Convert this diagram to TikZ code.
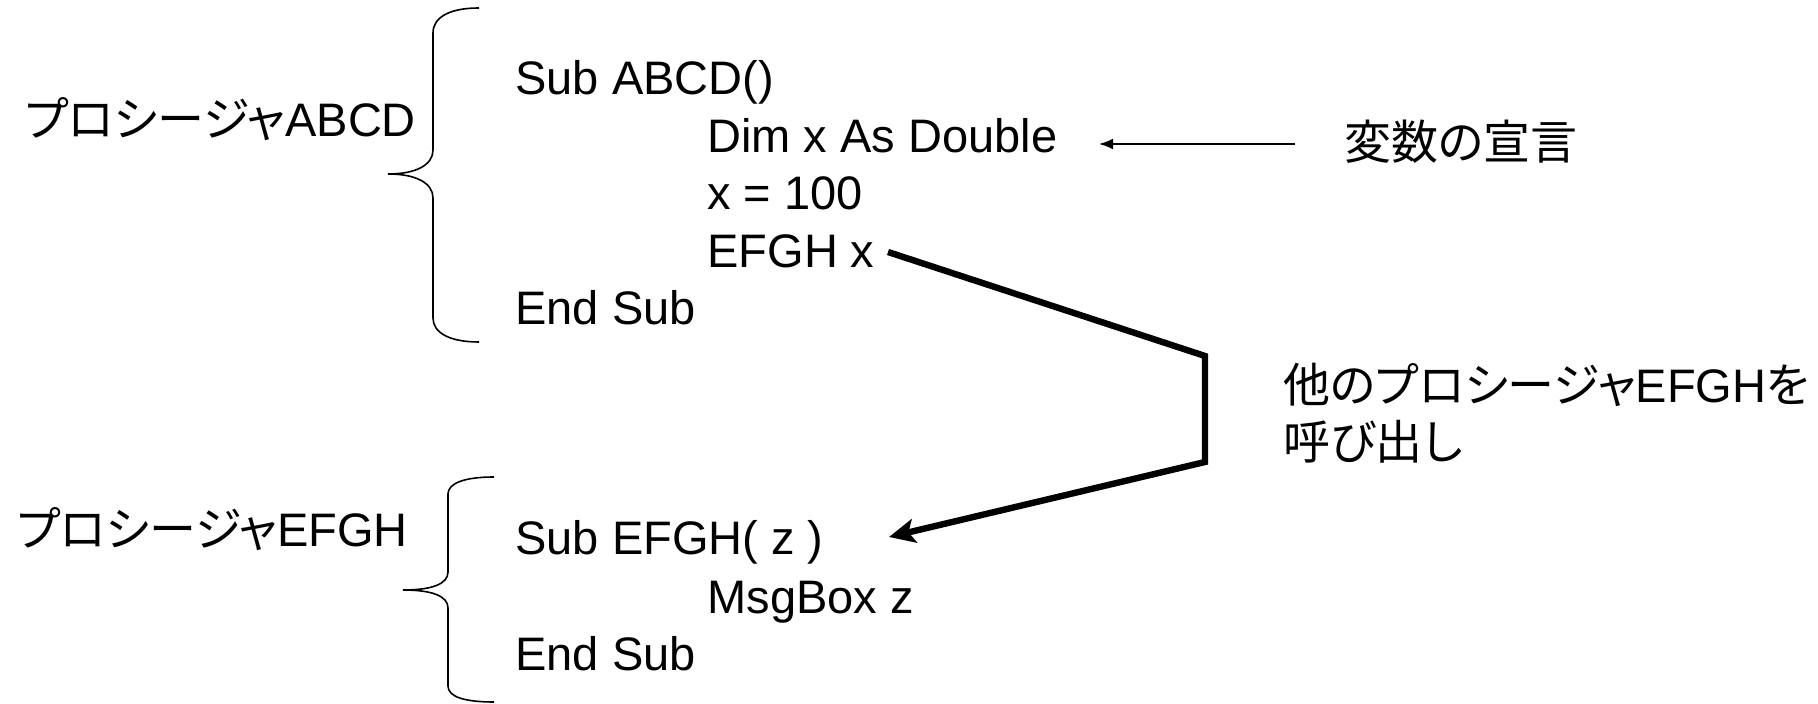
\documentclass[tikz,border=0pt]{standalone}
\usepackage{fontspec}
\setmainfont{Liberation Sans}
\newfontfamily\jp[RawFeature={+palt}]{Noto Sans CJK JP}
\usetikzlibrary{arrows.meta}
\begin{document}
\begin{tikzpicture}[x=0.5pt,y=-0.5pt,
  txt/.style={inner sep=0pt, anchor=base west, font=\fontsize{23.5}{28}\selectfont},
  bracepath/.style={line width=0.8pt},
  thinarrow/.style={line width=0.9pt, -{Latex[length=7pt,width=5.5pt]}},
  thickarrow/.style={line width=3.2pt, line join=miter, -{Stealth[length=13pt,width=12pt,inset=3pt]}}]
\path[fill=white,use as bounding box] (0,0) rectangle (1818,704);
% labels
\node[txt] (lab1) at (25,137) {{\jp プロシージャ}ABCD};
\node[txt] (lab2) at (17,547) {{\jp プロシージャ}EFGH};
% code ABCD
\node[txt] (a1) at (515,95) {Sub ABCD()};
\node[txt] (a2) at (707,153) {Dim x As Double};
\node[txt] (a3) at (707,210) {x = 100};
\node[txt] (a4) at (707,268) {EFGH x};
\node[txt] (a5) at (515,325) {End Sub};
% code EFGH
\node[txt] (b1) at (515,555) {Sub EFGH( z )};
\node[txt] (b2) at (707,613) {MsgBox z};
\node[txt] (b3) at (515,670) {End Sub};
% comments
\node[txt] (c0) at (1344,160) {\jp 変数の宣言};
\node[txt] (c1) at (1283,403) {{\jp 他のプロシージャ}EFGH{\jp を}};
\node[txt] (c2) at (1283,460) {\jp 呼び出し};
% braces
\draw[bracepath] (479,8) .. controls (450,8) and (433,17) .. (433,33) -- (433,150)
  .. controls (433,165) and (416,174) .. (388,174)
  .. controls (416,174) and (433,183) .. (433,198) -- (433,318)
  .. controls (433,333) and (450,342) .. (479,342);
\draw[bracepath] (494,477) .. controls (465,477) and (448,483) .. (448,494) -- (448,572)
  .. controls (448,584) and (432,590) .. (403,590)
  .. controls (432,590) and (448,596) .. (448,608) -- (448,686)
  .. controls (448,697) and (465,702) .. (494,702);
% arrows
\coordinate (t0) at (1295,144);
\coordinate (t1) at (1099,144);
\draw[thinarrow] (t0) -- (t1);
\coordinate (k0) at (888,252);
\coordinate (k1) at (1205,356);
\coordinate (k2) at (1205,462);
\coordinate (k3) at (889,537);
\draw[thickarrow] (k0) -- (k1) -- (k2) -- (k3);
\end{tikzpicture}
\end{document}
